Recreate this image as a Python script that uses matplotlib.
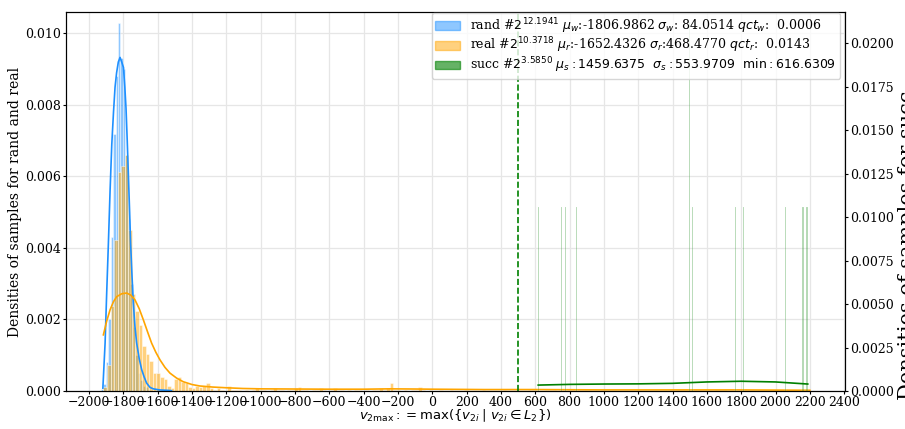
import matplotlib
matplotlib.use("Agg")
import matplotlib.pyplot as plt
from matplotlib.patches import Patch
from matplotlib.ticker import FormatStrFormatter
import numpy as np

plt.rcParams['font.family'] = 'serif'

# rand histogram (density per bin), bins of width 14.5 starting at -1933.25
rand_start, rand_width = -1933.25, 14.5
rand_density = [0.00005, 0.0002, 0.0008, 0.002, 0.0043, 0.0072, 0.0088, 0.0103, 0.0093, 0.009,
                0.0066, 0.0048, 0.003, 0.0018, 0.001, 0.0005, 0.0003, 0.00015, 0.0001, 0.00005]

# real histogram (counts per bin), 200 bins of width 20.6 starting at -1916.5
n_real = 1325
real_start, real_width = -1916.5, 20.6
real_counts = [3, 20, 65, 115, 167, 172, 180, 123, 74, 61, 50, 34, 28, 23, 14, 14, 11, 9, 4, 2,
               9, 11, 7, 6, 3, 2, 4, 3, 4, 6, 2, 1, 2, 1, 0, 4, 1, 1, 1, 0,
               1, 0, 1, 2, 1, 1, 0, 1, 2, 1, 1, 0, 1, 1, 2, 3, 1, 1, 0, 1,
               1, 2, 1, 0, 1, 2, 1, 1, 0, 1, 0, 1, 1, 0, 1, 0, 1, 1, 2, 1,
               2, 6, 1, 1, 0, 1, 0, 1, 1, 3, 1, 0, 1, 0, 0, 1, 0, 0, 1, 0,
               0, 0, 1, 0, 0, 0, 0, 1, 0, 0, 0, 0, 0, 1, 0, 0, 0, 0, 0, 0,
               1, 1, 1, 0, 0, 1, 1, 1, 0, 1, 1, 1, 1, 1, 1, 1, 1, 1, 0, 0,
               0, 0, 0, 0, 0, 0, 0, 0, 0, 0, 0, 0, 0, 0, 0, 0, 0, 0, 0, 0,
               0, 0, 1, 1, 1, 1, 1, 1, 1, 1, 1, 1, 0, 1, 1, 1, 0, 0, 0, 0,
               0, 1, 1, 1, 0, 1, 1, 1, 1, 1, 1, 1, 1, 1, 0, 0, 1, 1, 1, 1]

# successful samples
succ_values = [616.6309, 752, 775, 839, 1502, 1503, 1519, 1769, 1818, 2060, 2159, 2188]

# density curves
rand_kde_x = [-1920, -1907, -1898, -1888, -1878, -1868, -1858, -1849, -1840, -1830, -1820, -1810,
              -1800, -1792, -1785, -1778, -1771, -1764, -1758, -1750, -1743, -1733, -1723, -1708,
              -1694, -1680, -1665, -1645, -1626, -1590, -1548, -1520]
rand_kde_y = [0.00008, 0.00134, 0.0027, 0.0041, 0.0056, 0.0069, 0.0078, 0.0085, 0.0089, 0.0092,
              0.00933, 0.0092, 0.00905, 0.0085, 0.0079, 0.0070, 0.0060, 0.0050, 0.0041, 0.0032,
              0.0025, 0.0018, 0.00134, 0.0009, 0.0006, 0.0004, 0.00022, 0.0001, 0.00006, 0.00003,
              0.00002, 0.00001]
real_kde_x = [-1917, -1898, -1878, -1858, -1839, -1810, -1781, -1757, -1733, -1708, -1684, -1660,
              -1636, -1611, -1587, -1558, -1529, -1490, -1452, -1400, -1355, -1280, -1200, -1105,
              -1000, -800, -600, -400, -250, -100, 0, 300, 600, 1000, 1400, 1800, 2200]
real_kde_y = [0.00157, 0.00195, 0.00227, 0.0025, 0.00264, 0.00272, 0.00274, 0.00268, 0.00255,
              0.0023, 0.00199, 0.00166, 0.00134, 0.00108, 0.00087, 0.00066, 0.0005, 0.00036,
              0.00026, 0.00018, 0.00014, 0.00011, 0.00009, 0.00007, 0.00006, 0.000055, 0.00005,
              0.00005, 0.00006, 0.000055, 0.00005, 0.00004, 0.00004, 0.00003, 0.00003, 0.00003,
              0.00002]
succ_kde_x = [617, 800, 1000, 1200, 1400, 1600, 1800, 2000, 2188]
succ_kde_y = [0.00034, 0.00038, 0.0004, 0.00041, 0.00044, 0.00052, 0.00056, 0.00052, 0.0004]

threshold = 500

labels = [r'rand #$2^{12.1941}$ $\mu_w$:-1806.9862 $\sigma_w$: 84.0514 $qct_w$:  0.0006',
          r'real #$2^{10.3718}$ $\mu_r$:-1652.4326 $\sigma_r$:468.4770 $qct_r$:  0.0143',
          r'succ #$2^{3.5850}$ $\mu_s: 1459.6375\ \ \sigma_s: 553.9709\ \ \min: 616.6309$']

fig = plt.figure(figsize=(9.05, 4.29), dpi=100)
ax = fig.add_axes([0.0729, 0.0886, 0.8608, 0.8834])

rand_x = rand_start + rand_width * (np.arange(len(rand_density)) + 0.5)
ax.bar(rand_x, rand_density, width=rand_width, color='dodgerblue', alpha=0.5,
       edgecolor='white', linewidth=0.6)

real_x = real_start + real_width * (np.arange(len(real_counts)) + 0.5)
real_density = np.array(real_counts) / (n_real * real_width)
ax.bar(real_x, real_density, width=real_width, color='orange', alpha=0.5,
       edgecolor='white', linewidth=0.6)

ax.plot(rand_kde_x, rand_kde_y, color='dodgerblue', lw=1.2)
ax.plot(real_kde_x, real_kde_y, color='orange', lw=1.2)
ax.axvline(threshold, color='green', ls='--', lw=1.2)

ax.set_xlim(-2135, 2405)
ax.set_ylim(0, 0.0106)
ax.set_xticks(np.arange(-2000, 2401, 200))
ax.set_yticks(np.arange(0, 0.0101, 0.002))
ax.yaxis.set_major_formatter(FormatStrFormatter('%.3f'))
ax.grid(True, color='#e6e6e6', lw=0.9)
ax.set_axisbelow(True)
ax.tick_params(labelsize=9, length=2.5, pad=1)
ax.set_ylabel('Densities of samples for rand and real', fontsize=10, labelpad=2)
ax.set_xlabel(r'$v_{2\max}:=\max(\{v_{2i}\mid v_{2i}\in L_2\})$', fontsize=9.5, labelpad=-1)

ax2 = ax.twinx()
ax2.hist(succ_values, bins=200, density=True, color='green', alpha=0.3,
         edgecolor='white', linewidth=0.3)
ax2.plot(succ_kde_x, succ_kde_y, color='green', lw=1.2)
ax2.set_ylim(0, 0.0218)
ax2.set_yticks(np.arange(0, 0.02001, 0.0025))
ax2.yaxis.set_major_formatter(FormatStrFormatter('%.4f'))
ax2.tick_params(labelsize=9, length=2.5, pad=1)
ax2.set_ylabel('Densities of samples for succ', fontsize=15)
ax2.yaxis.set_label_coords(1.068, 0.385)

handles = [Patch(color='dodgerblue', alpha=0.5), Patch(color='orange', alpha=0.5),
           Patch(color='green', alpha=0.6)]
ax2.legend(handles, labels, loc='upper right', fontsize=9, labelspacing=0,
           borderaxespad=0, borderpad=0.3, bbox_to_anchor=(0.9936, 0.9987))

fig.savefig('out.png', dpi=100)
